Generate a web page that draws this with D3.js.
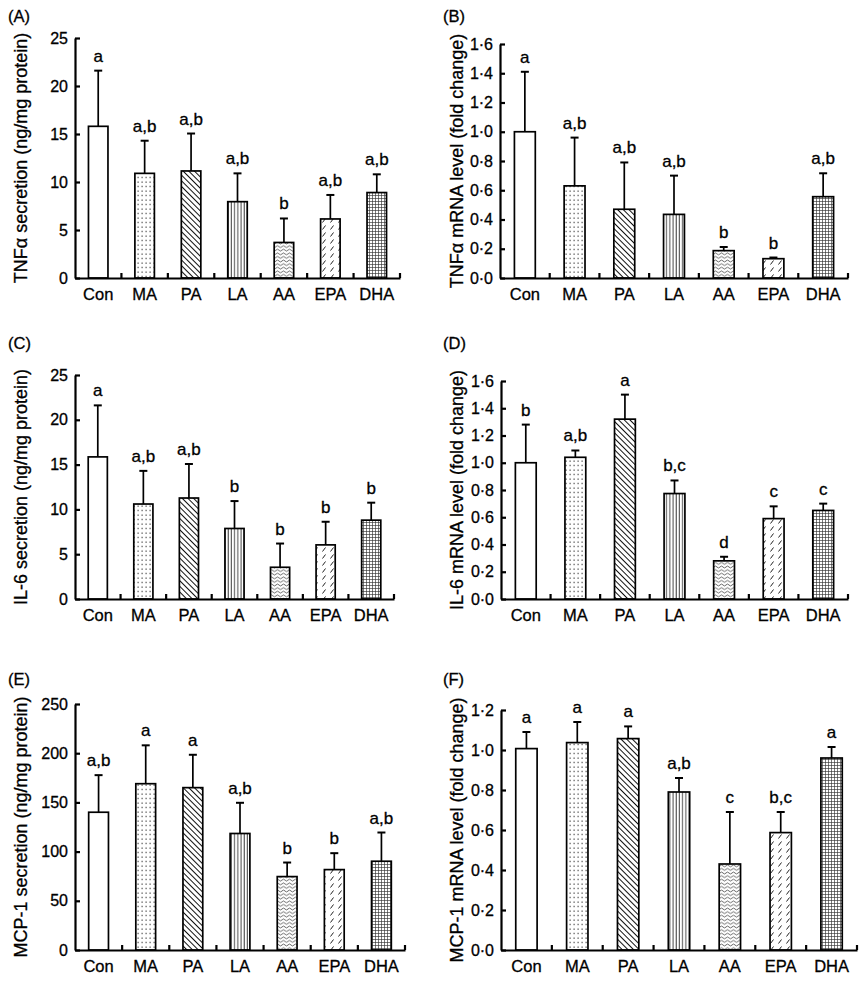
<!DOCTYPE html>
<html><head><meta charset="utf-8">
<script src="https://cdn.jsdelivr.net/npm/d3@7"></script>
<style>
body{margin:0;background:#fff;}
text{font-family:"Liberation Sans",Arial,sans-serif;fill:#000;stroke:#000;stroke-width:0.3px;}
</style></head>
<body>
<svg id="chart" width="868" height="981"></svg>
<script>
const categories = ["Con","MA","PA","LA","AA","EPA","DHA"];
const patternIds = ["pCon","pMA","pPA","pLA","pAA","pEPA","pDHA"];

// Panel A: TNFα secretion
const tnfSecMean = [15.8, 10.9, 11.15, 7.95, 3.7, 6.15, 8.9];
const tnfSecErr  = [5.8, 3.4, 3.9, 2.95, 2.5, 2.5, 1.9];
const tnfSecSig  = ["a","a,b","a,b","a,b","b","a,b","a,b"];
// Panel B: TNFα mRNA
const tnfMrnaMean = [1.0, 0.63, 0.47, 0.435, 0.187, 0.132, 0.556];
const tnfMrnaErr  = [0.41, 0.33, 0.32, 0.265, 0.025, 0.008, 0.16];
const tnfMrnaSig  = ["a","a,b","a,b","a,b","b","b","a,b"];
// Panel C: IL-6 secretion
const il6SecMean = [15.86, 10.6, 11.27, 7.87, 3.54, 6.04, 8.8];
const il6SecErr  = [5.75, 3.7, 3.8, 3.06, 2.65, 2.58, 1.95];
const il6SecSig  = ["a","a,b","a,b","b","b","b","b"];
// Panel D: IL-6 mRNA
const il6MrnaMean = [1.0, 1.04, 1.32, 0.774, 0.28, 0.59, 0.65];
const il6MrnaErr  = [0.28, 0.05, 0.18, 0.096, 0.03, 0.09, 0.05];
const il6MrnaSig  = ["b","a,b","a","b,c","d","c","c"];
// Panel E: MCP-1 secretion
const mcpSecMean = [140, 169, 165, 118.4, 74.6, 81.7, 90.2];
const mcpSecErr  = [37.7, 39, 33.4, 31.2, 14.3, 16.7, 29.2];
const mcpSecSig  = ["a,b","a","a","a,b","b","b","a,b"];
// Panel F: MCP-1 mRNA
const mcpMrnaMean = [1.007, 1.037, 1.057, 0.79, 0.43, 0.587, 0.96];
const mcpMrnaErr  = [0.083, 0.103, 0.061, 0.07, 0.26, 0.103, 0.055];
const mcpMrnaSig  = ["a","a","a","a,b","c","b,c","a"];

const ticks25 = [0,5,10,15,20,25];
const ticks16 = [0,0.2,0.4,0.6,0.8,1.0,1.2,1.4,1.6];
const ticks250 = [0,50,100,150,200,250];
const ticks12 = [0,0.2,0.4,0.6,0.8,1.0,1.2];

const svg = d3.select("#chart");
const defs = svg.append("defs");

function pat(id, w, h, transform){
  const p = defs.append("pattern").attr("id", id).attr("patternUnits","userSpaceOnUse")
    .attr("width", w).attr("height", h);
  if (transform) p.attr("patternTransform", transform);
  p.append("rect").attr("width", w).attr("height", h).attr("fill", "#fff");
  return p;
}
pat("pCon", 4, 4);
pat("pMA", 4, 4.5).append("rect").attr("x",1.5).attr("y",1.5).attr("width",1.2).attr("height",1.2).attr("fill","#333");
pat("pPA", 4, 4, "rotate(-45)").append("line").attr("x1",0.5).attr("y1",0).attr("x2",0.5).attr("y2",4).attr("stroke","#111").attr("stroke-width",1);
pat("pLA", 3.2, 4).append("line").attr("x1",1).attr("y1",0).attr("x2",1).attr("y2",4).attr("stroke","#222").attr("stroke-width",0.85);
pat("pAA", 6, 3.6).append("path").attr("d","M0,1.8 Q1.5,0 3,1.8 T6,1.8").attr("fill","none").attr("stroke","#333").attr("stroke-width",0.75);
pat("pEPA", 8, 7).append("line").attr("x1",2.5).attr("y1",5.5).attr("x2",5.5).attr("y2",1.5).attr("stroke","#222").attr("stroke-width",1);
const pd = pat("pDHA", 3, 3);
pd.append("line").attr("x1",0.5).attr("y1",0).attr("x2",0.5).attr("y2",3).attr("stroke","#333").attr("stroke-width",0.65);
pd.append("line").attr("x1",0).attr("y1",0.5).attr("x2",3).attr("y2",0.5).attr("stroke","#333").attr("stroke-width",0.65);

const panels = [
  {label:"(A)", lx:8, ly:22, x0:75, x1:400, yTop:38, yBot:278, max:25, ticks:ticks25, fmt:d=>String(d),
   title:"TNFα secretion (ng/mg protein)", tx:21, mean:tnfSecMean, err:tnfSecErr, sig:tnfSecSig},
  {label:"(B)", lx:443, ly:22, x0:500, x1:848, yTop:44, yBot:278, max:1.6, ticks:ticks16, fmt:d=>d.toFixed(1).replace(".","·"),
   title:"TNFα mRNA level (fold change)", tx:457, mean:tnfMrnaMean, err:tnfMrnaErr, sig:tnfMrnaSig},
  {label:"(C)", lx:8, ly:349, x0:75, x1:394, yTop:375, yBot:599, max:25, ticks:ticks25, fmt:d=>String(d),
   title:"IL-6 secretion (ng/mg protein)", tx:21, mean:il6SecMean, err:il6SecErr, sig:il6SecSig},
  {label:"(D)", lx:443, ly:349, x0:501, x1:848, yTop:381, yBot:599, max:1.6, ticks:ticks16, fmt:d=>d.toFixed(1).replace(".","·"),
   title:"IL-6 mRNA level (fold change)", tx:457, mean:il6MrnaMean, err:il6MrnaErr, sig:il6MrnaSig},
  {label:"(E)", lx:8, ly:685, x0:75, x1:405, yTop:704, yBot:950, max:250, ticks:ticks250, fmt:d=>String(d),
   title:"MCP-1 secretion (ng/mg protein)", tx:21, mean:mcpSecMean, err:mcpSecErr, sig:mcpSecSig},
  {label:"(F)", lx:443, ly:685, x0:501, x1:857, yTop:710, yBot:950, max:1.2, ticks:ticks12, fmt:d=>d.toFixed(1).replace(".","·"),
   title:"MCP-1 mRNA level (fold change)", tx:457, mean:mcpMrnaMean, err:mcpMrnaErr, sig:mcpMrnaSig}
];

panels.forEach(p => {
  const g = svg.append("g");
  const x = d3.scaleBand().domain(categories).range([p.x0, p.x1]).padding(0);
  const y = d3.scaleLinear().domain([0, p.max]).range([p.yBot, p.yTop]);
  const bw = x.step() * 0.42;
  const data = categories.map((c,i) => ({c, m:p.mean[i], e:p.err[i], s:p.sig[i], pid:patternIds[i]}));

  g.append("text").attr("x", p.lx).attr("y", p.ly).attr("font-size", 16.5).text(p.label);

  g.selectAll("rect.bar").data(data).enter().append("rect")
    .attr("x", d => x(d.c) + x.step()/2 - bw/2)
    .attr("y", d => y(d.m))
    .attr("width", bw)
    .attr("height", d => y(0) - y(d.m))
    .attr("fill", d => `url(#${d.pid})`)
    .attr("stroke", "#000").attr("stroke-width", 1.7);

  g.selectAll("line.err").data(data).enter().append("line")
    .attr("x1", d => x(d.c) + x.step()/2).attr("x2", d => x(d.c) + x.step()/2)
    .attr("y1", d => y(d.m)).attr("y2", d => y(d.m + d.e))
    .attr("stroke", "#000").attr("stroke-width", 1.7);
  g.selectAll("line.cap").data(data).enter().append("line")
    .attr("x1", d => x(d.c) + x.step()/2 - 4).attr("x2", d => x(d.c) + x.step()/2 + 4)
    .attr("y1", d => y(d.m + d.e)).attr("y2", d => y(d.m + d.e))
    .attr("stroke", "#000").attr("stroke-width", 2);

  g.selectAll("text.sig").data(data).enter().append("text")
    .attr("x", d => x(d.c) + x.step()/2)
    .attr("y", d => y(d.m + d.e) - 9)
    .attr("text-anchor", "middle").attr("font-size", 17)
    .text(d => d.s);

  const ya = g.append("g").attr("transform", `translate(${p.x0},0)`)
    .call(d3.axisLeft(y).tickValues(p.ticks).tickFormat(p.fmt).tickSizeInner(-5).tickSizeOuter(0).tickPadding(7));
  ya.select(".domain").attr("stroke-width", 2.2);
  ya.selectAll(".tick line").attr("stroke-width", 2.2);
  ya.selectAll(".tick text").attr("font-size", 16).attr("font-family", '"Liberation Sans",Arial,sans-serif');

  const xa = g.append("g").attr("transform", `translate(0,${p.yBot})`)
    .call(d3.axisBottom(x).tickSize(0).tickPadding(10));
  xa.select(".domain").attr("stroke-width", 2.2);
  xa.selectAll(".tick text").attr("font-size", 16.5).attr("font-family", '"Liberation Sans",Arial,sans-serif');
  g.selectAll("line.xt").data(d3.range(1, categories.length + 1)).enter().append("line")
    .attr("x1", i => x.range()[0] + i * x.step()).attr("x2", i => x.range()[0] + i * x.step())
    .attr("y1", p.yBot).attr("y2", p.yBot - 5)
    .attr("stroke", "#000").attr("stroke-width", 2.2);

  g.append("text")
    .attr("transform", `translate(${p.tx},${(p.yTop + p.yBot)/2}) rotate(-90)`)
    .attr("text-anchor", "middle").attr("dominant-baseline", "central")
    .attr("font-size", 18).text(p.title);
});
</script>
</body></html>
